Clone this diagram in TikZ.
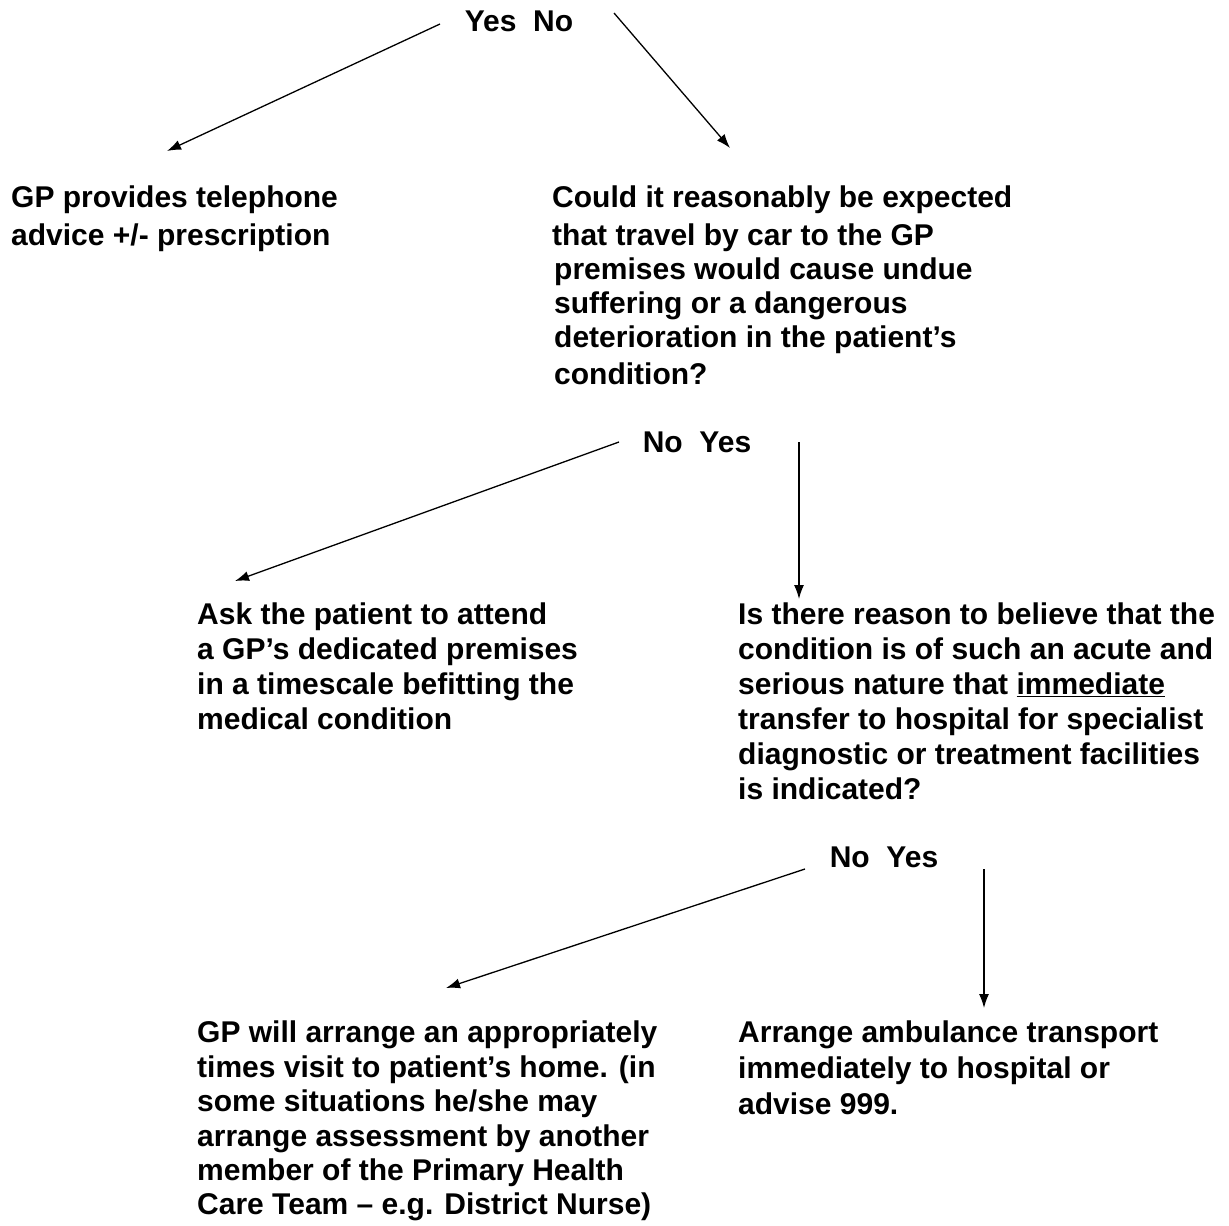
\documentclass[tikz,border=0pt]{standalone}
\usepackage{fontspec}
\setmainfont{Liberation Sans}
\usetikzlibrary{arrows.meta}
\begin{document}
\begin{tikzpicture}[x=1pt,y=-1pt,
  txt/.style={anchor=north west,inner sep=0pt,align=left,font=\fontsize{30}{35}\selectfont\bfseries},
  lbl/.style={inner sep=0pt,font=\fontsize{30}{35}\selectfont\bfseries},
  arr/.style={line width=1.3pt,-{Latex[length=14pt,width=10pt]}}]
\useasboundingbox[fill=white] (0,0) rectangle (1229,1226);
% labels
\node[lbl] (yn1) at (519,21) {Yes\ \ No};
\node[lbl] (yn2) at (697,442) {No\ \ Yes};
\node[lbl] (yn3) at (884,857) {No\ \ Yes};
% blocks
\node[txt] (tel) at (11,186) {GP provides telephone\\[3pt]advice +/- prescription};
\node[txt] (could) at (552,186) {Could it reasonably be expected\\[3pt]that travel by car to the GP\\[-1pt]\hspace*{2pt}premises would cause undue\\[-1pt]\hspace*{2pt}suffering or a dangerous\\[-1pt]\hspace*{2pt}deterioration in the patient’s\\[2pt]\hspace*{2pt}condition?};
\node[txt] (ask) at (197,603) {Ask the patient to attend\\a GP’s dedicated premises\\in a timescale befitting the\\medical condition};
\node[txt] (isthere) at (738,603) {Is there reason to believe that the\\condition is of such an acute and\\serious nature that \underline{immediate}\\transfer to hospital for specialist\\diagnostic or treatment facilities\\is indicated?};
\node[txt,font=\fontsize{30}{34.4}\selectfont\bfseries] (visit) at (197,1021) {GP will arrange an appropriately\\times visit to patient’s home. (in\\some situations he/she may\\arrange assessment by another\\member of the Primary Health\\Care Team – e.g. District Nurse)};
\node[txt,font=\fontsize{30}{36}\selectfont\bfseries] (amb) at (738,1021) {Arrange ambulance transport\\immediately to hospital or\\advise 999.};
% connector ends
\coordinate (a1s) at (440,24);  \coordinate (a1e) at (167,151);
\coordinate (a2s) at (614,13);  \coordinate (a2e) at (730,148);
\coordinate (a3s) at (619,442); \coordinate (a3e) at (235,581);
\coordinate (a4s) at (799,442); \coordinate (a4e) at (799,599);
\coordinate (a5s) at (805,869); \coordinate (a5e) at (446,988);
\coordinate (a6s) at (984,869); \coordinate (a6e) at (984,1008);
\draw[arr] (a1s) -- (a1e);
\draw[arr] (a2s) -- (a2e);
\draw[arr] (a3s) -- (a3e);
\draw[arr] (a4s) -- (a4e);
\draw[arr] (a5s) -- (a5e);
\draw[arr] (a6s) -- (a6e);
\end{tikzpicture}
\end{document}
